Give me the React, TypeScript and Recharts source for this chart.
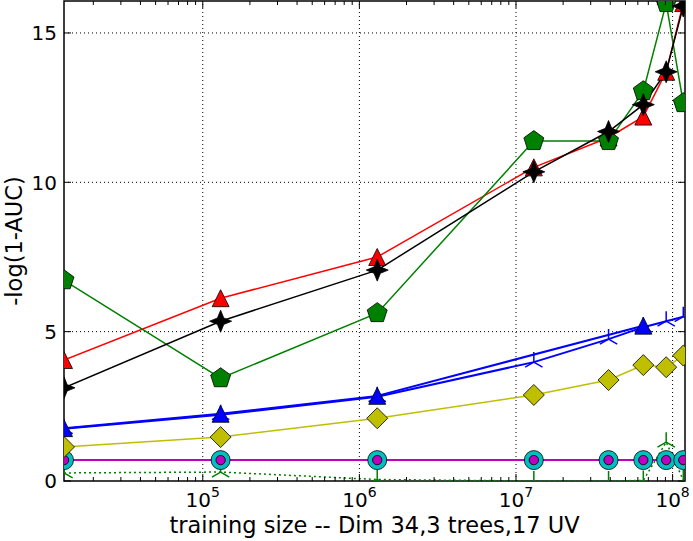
import React from 'react';
import { ComposedChart, Line, XAxis, YAxis, ReferenceLine, ReferenceArea } from 'recharts';

// training sizes (x) and -log(1-AUC) per series
const sizes = [1.3e4, 1.3e5, 1.3e6, 1.3e7, 3.9e7, 6.5e7, 9.1e7, 1.17e8];
const redTriangles = [4.05, 6.12, 7.5, 10.5, 11.5, 12.2, 13.7, 16.0];
const blackStars = [3.12, 5.35, 7.06, 10.35, 11.7, 12.6, 13.7, 15.9];
const greenPentagons = [6.72, 3.44, 5.62, 11.38, 11.38, 13.05, 16.0, 12.65];
const blueTriangles = [1.77, 2.25, 2.85, null, null, 5.2, null, null];
const blueTris = [1.75, 2.22, 2.82, 3.98, 4.75, 5.15, 5.35, 5.5];
const yellowDiamonds = [1.14, 1.47, 2.1, 2.88, 3.38, 3.88, 3.81, 4.2];
const cyanCircles = [0.7, 0.7, 0.7, 0.7, 0.7, 0.7, 0.7, 0.7];
const magentaCircles = [0.7, 0.7, 0.7, 0.7, 0.7, 0.7, 0.7, 0.7];
const greenTrisDotted = [0.27, 0.3, 0.05, 0.0, 0.0, 0.02, 1.3, 0.03];

const xMajorTicks = [1e5, 1e6, 1e7, 1e8];
const xMinorTicks = [1e4, 1e5, 1e6, 1e7].flatMap((d) => [2, 3, 4, 5, 6, 7, 8, 9].map((m) => m * d));
const yTicks = [0, 5, 10, 15];

const X_DOMAIN = [1.3e4, 1.2e8];
const Y_DOMAIN = [0, 16.07];
const PLOT_W = 621;
const PLOT_H = 480;
const FONT = '"DejaVu Sans", sans-serif';

const data = sizes.map((size, i) => ({
  size,
  red: redTriangles[i],
  black: blackStars[i],
  green: greenPentagons[i],
  blueTri: blueTriangles[i],
  blueY: blueTris[i],
  yellow: yellowDiamonds[i],
  cyan: cyanCircles[i],
  magenta: magentaCircles[i],
  gdot: greenTrisDotted[i],
}));

const EDGE = { stroke: '#000', strokeWidth: 0.8 };

function polygon(cx: number, cy: number, r: number, n: number, rot: number, inner?: number) {
  const pts: string[] = [];
  const count = inner ? n * 2 : n;
  for (let k = 0; k < count; k++) {
    const a = ((rot + (360 / count) * k) * Math.PI) / 180;
    const rr = inner && k % 2 === 1 ? inner : r;
    pts.push(`${cx + rr * Math.cos(a)},${cy + rr * Math.sin(a)}`);
  }
  return pts.join(' ');
}

const skip = (p: any) => p.cx == null || p.cy == null || p.value == null;

const triangleDot = (fill: string) => (p: any) => {
  if (skip(p)) return <g key={p.key ?? p.index} />;
  const s = 8.5;
  return (
    <path
      key={p.key ?? p.index}
      d={`M${p.cx},${p.cy - s} L${p.cx + s},${p.cy + s} L${p.cx - s},${p.cy + s} Z`}
      fill={fill}
      {...EDGE}
    />
  );
};

const pentagonDot = (p: any) => {
  if (skip(p)) return <g key={p.key ?? p.index} />;
  return <polygon key={p.key ?? p.index} points={polygon(p.cx, p.cy, 10.5, 5, -90)} fill="#008000" {...EDGE} />;
};

const starDot = (p: any) => {
  if (skip(p)) return <g key={p.key ?? p.index} />;
  return <polygon key={p.key ?? p.index} points={polygon(p.cx, p.cy, 11, 4, -90, 4.5)} fill="#000" {...EDGE} />;
};

const diamondDot = (p: any) => {
  if (skip(p)) return <g key={p.key ?? p.index} />;
  return <polygon key={p.key ?? p.index} points={polygon(p.cx, p.cy, 10.5, 4, -90)} fill="#bfbf00" {...EDGE} />;
};

const circleDot = (r: number, fill: string) => (p: any) => {
  if (skip(p)) return <g key={p.key ?? p.index} />;
  return <circle key={p.key ?? p.index} cx={p.cx} cy={p.cy} r={r} fill={fill} {...EDGE} />;
};

const triUpDot = (color: string) => (p: any) => {
  if (skip(p)) return <g key={p.key ?? p.index} />;
  const a = 10;
  return (
    <path
      key={p.key ?? p.index}
      d={`M${p.cx},${p.cy} L${p.cx},${p.cy - a} M${p.cx},${p.cy} L${p.cx - a * 0.866},${p.cy + a * 0.5} M${p.cx},${p.cy} L${p.cx + a * 0.866},${p.cy + a * 0.5}`}
      stroke={color}
      strokeWidth={1.5}
      fill="none"
    />
  );
};

function XTick({ x, y, payload }: any) {
  const v = payload.value;
  const major = xMajorTicks.includes(v);
  const len = major ? 7 : 4;
  return (
    <g>
      <line x1={x} x2={x} y1={y} y2={y - len} stroke="#000" strokeWidth={1} />
      <line x1={x} x2={x} y1={y - PLOT_H} y2={y - PLOT_H + len} stroke="#000" strokeWidth={1} />
      {major && (
        <text x={x} y={y + 26} textAnchor="middle" fontSize={20} fill="#000" fontFamily={FONT}>
          <tspan>10</tspan>
          <tspan dy={-10} fontSize={14}>
            {Math.round(Math.log10(v))}
          </tspan>
        </text>
      )}
    </g>
  );
}

function YTick({ x, y, payload }: any) {
  return (
    <g>
      <line x1={x} x2={x + 7} y1={y} y2={y} stroke="#000" strokeWidth={1} />
      <line x1={x + PLOT_W - 7} x2={x + PLOT_W} y1={y} y2={y} stroke="#000" strokeWidth={1} />
      <text x={x - 7} y={y} dy="0.36em" textAnchor="end" fontSize={20} fill="#000" fontFamily={FONT}>
        {payload.value}
      </text>
    </g>
  );
}

export default function App() {
  return (
    <div style={{ position: 'absolute', left: 0, top: 0, width: 693, height: 541, background: '#fff', fontFamily: FONT }}>
      <ComposedChart width={693} height={541} data={data} margin={{ top: 1, right: 8, bottom: 0, left: 0 }}>
        <XAxis
          dataKey="size"
          type="number"
          scale="log"
          domain={X_DOMAIN}
          allowDataOverflow
          ticks={[...xMinorTicks, ...xMajorTicks].sort((a, b) => a - b)}
          interval={0}
          tick={<XTick />}
          tickLine={false}
          tickSize={0}
          tickMargin={0}
          axisLine={false}
          height={60}
          label={{
            value: 'training size -- Dim 34,3 trees,17 UV',
            position: 'insideBottom',
            offset: 8,
            fill: '#000',
            fontSize: 22.5,
            fontFamily: FONT,
          }}
        />
        <YAxis
          type="number"
          domain={Y_DOMAIN}
          allowDataOverflow
          ticks={yTicks}
          interval={0}
          tick={<YTick />}
          tickLine={false}
          tickSize={0}
          tickMargin={0}
          axisLine={false}
          width={64}
          label={{
            value: '-log(1-AUC)',
            angle: -90,
            position: 'insideLeft',
            offset: 14,
            fill: '#000',
            fontSize: 22.5,
            fontFamily: FONT,
            style: { textAnchor: 'middle' },
          }}
        />
        {xMajorTicks.map((t) => (
          <ReferenceLine key={`gx${t}`} x={t} stroke="#000" strokeWidth={1} strokeDasharray="1 3" />
        ))}
        {yTicks.slice(1).map((t) => (
          <ReferenceLine key={`gy${t}`} y={t} stroke="#000" strokeWidth={1} strokeDasharray="1 3" />
        ))}
        <Line dataKey="gdot" type="linear" stroke="#008000" strokeWidth={1.5} strokeDasharray="2 3" dot={triUpDot('#008000')} activeDot={false} isAnimationActive={false} />
        <Line dataKey="cyan" type="linear" stroke="#00bfbf" strokeWidth={1.5} dot={circleDot(9.5, '#00bfbf')} activeDot={false} isAnimationActive={false} />
        <Line dataKey="magenta" type="linear" stroke="#bf00bf" strokeWidth={2} dot={circleDot(4.7, '#bf00bf')} activeDot={false} isAnimationActive={false} />
        <Line dataKey="yellow" type="linear" stroke="#bfbf00" strokeWidth={1.5} dot={diamondDot} activeDot={false} isAnimationActive={false} />
        <Line dataKey="blueY" type="linear" stroke="#0000ff" strokeWidth={2} dot={triUpDot('#0000ff')} activeDot={false} isAnimationActive={false} />
        <Line dataKey="blueTri" type="linear" stroke="#0000ff" strokeWidth={2} connectNulls dot={triangleDot('#0000ff')} activeDot={false} isAnimationActive={false} />
        <Line dataKey="red" type="linear" stroke="#ff0000" strokeWidth={1.5} dot={triangleDot('#ff0000')} activeDot={false} isAnimationActive={false} />
        <Line dataKey="green" type="linear" stroke="#008000" strokeWidth={1.5} dot={pentagonDot} activeDot={false} isAnimationActive={false} />
        <Line dataKey="black" type="linear" stroke="#000" strokeWidth={1.5} dot={starDot} activeDot={false} isAnimationActive={false} />
        <ReferenceArea x1={X_DOMAIN[0]} x2={X_DOMAIN[1]} y1={Y_DOMAIN[0]} y2={Y_DOMAIN[1]} fill="none" fillOpacity={0} stroke="#000" strokeWidth={1.5} />
      </ComposedChart>
    </div>
  );
}
